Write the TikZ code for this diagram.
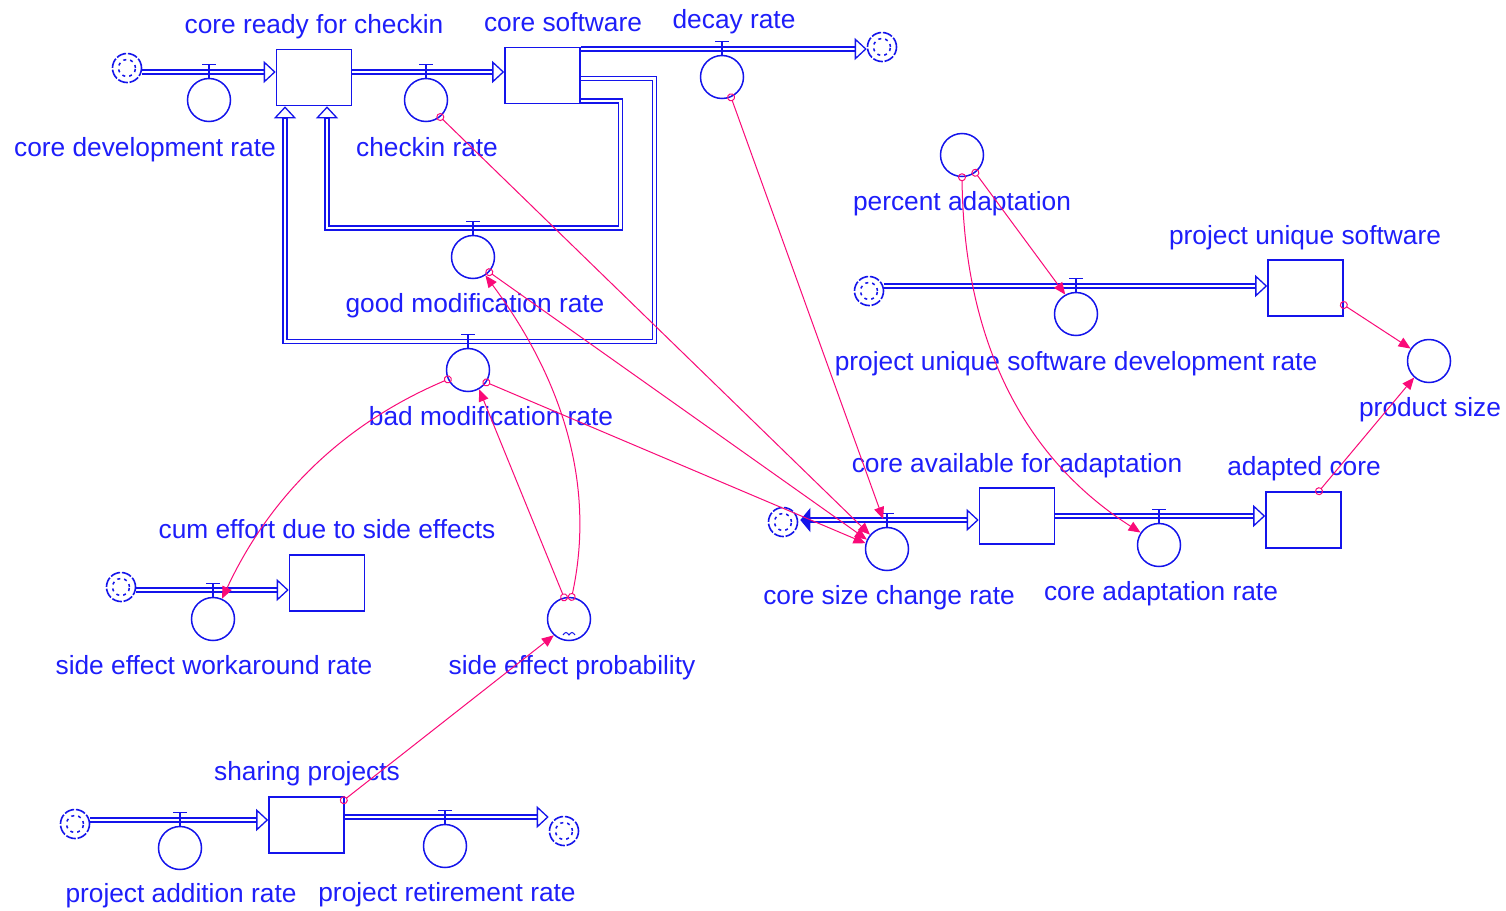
\documentclass[tikz,border=0pt]{standalone}
\usepackage{fontspec}
\setmainfont{Liberation Sans}
\usetikzlibrary{arrows.meta,backgrounds}
\definecolor{fb}{RGB}{20,20,235}
\definecolor{tb}{RGB}{30,30,250}
\definecolor{lk}{RGB}{250,10,120}
\tikzset{
  stock/.style={draw=fb, line width=1.6pt, fill=white, minimum width=75pt, minimum height=56pt, inner sep=0pt},
  rate/.style={circle, draw=fb, line width=1.5pt, minimum size=43pt, inner sep=0pt},
  cloudsym/.style={circle, draw=fb, line width=1.6pt, fill=white, minimum size=29pt, inner sep=0pt,
    dash pattern=on 10pt off 1.8pt,
    path picture={\draw[fb, line width=1.5pt, dash pattern=on 3pt off 4pt]
      (path picture bounding box.center) circle[radius=8.5pt];}},
  pipe/.style={draw=fb, line width=1.5pt, double=white, double distance=2.4pt},
  inhead/.style={draw=fb, line width=1.3pt, -{Triangle[open, length=12pt, width=22pt, fill=white]}},
  outhead/.style={draw=fb, line width=1pt, -{Triangle[length=10pt, width=24pt]}},
  valvebar/.style={draw=fb, line width=1.4pt},
  link/.style={draw=lk, line width=1pt, shorten <=-4pt,
    {Circle[open, length=8pt, width=8pt]}-{Triangle[length=12pt, width=10pt]}},
  lbl/.style={text=tb, inner sep=0pt, anchor=base, font=\fontsize{26.3pt}{30pt}\selectfont},
}
\newcommand{\valve}[1]{\draw[valvebar] (#1.north) -- ++(0,-13) ++(-7,0) -- ++(14,0);}
\begin{document}
\begin{tikzpicture}[x=1pt, y=-1pt]
\useasboundingbox (0,0) rectangle (1506,910);

% stocks
\node[stock] (crc) at (314,77.5) {};
\node[stock] (cs) at (542.5,75.5) {};
\node[stock] (pus) at (1305.5,288) {};
\node[stock] (caa) at (1017,516) {};
\node[stock] (ac) at (1303.5,520) {};
\node[stock] (ce) at (327,583) {};
\node[stock] (sp) at (306.5,825) {};

% sources and sinks
\node[cloudsym] (cl1) at (127,68) {};
\node[cloudsym] (cl2) at (882,47) {};
\node[cloudsym] (cl3) at (869,291) {};
\node[cloudsym] (cl4) at (783,522) {};
\node[cloudsym] (cl5) at (121,587) {};
\node[cloudsym] (cl6) at (75,824) {};
\node[cloudsym] (cl7) at (564,831) {};

% rates and auxiliaries
\node[rate] (cdr) at (209,100) {};
\node[rate] (chk) at (426,100) {};
\node[rate] (dr) at (722,77) {};
\node[rate] (gmr) at (473,257) {};
\node[rate] (bmr) at (468,370) {};
\node[rate] (pusdr) at (1076,314) {};
\node[rate] (csc) at (887,549) {};
\node[rate] (car) at (1159,545) {};
\node[rate] (sewr) at (213,619) {};
\node[rate] (par) at (180,848) {};
\node[rate] (prr) at (445,846) {};
\node[rate] (pa) at (962,155) {};
\node[rate] (ps) at (1429,361) {};
\node[rate] (sep) at (569,619) {};

% pipe lines of the flows
\coordinate (p1) at (209,72);
\coordinate (p2) at (426,72);
\coordinate (p3) at (722,49);
\coordinate (p4) at (1076,286);
\coordinate (p5) at (887,520);
\coordinate (p6) at (1159,516);
\coordinate (p7) at (213,590);
\coordinate (p8) at (180,820);
\coordinate (p9) at (445,817);
\coordinate (gA) at (620.5,101);
\coordinate (gB) at (620.5,228);
\coordinate (gC) at (327,228);
\coordinate (bA) at (654.5,78.5);
\coordinate (bB) at (654.5,341.5);
\coordinate (bC) at (285,341.5);

\coordinate (e1) at (crc.west |- p1);
\coordinate (e2) at (cs.west |- p2);
\coordinate (e3) at (cl2.west |- p3);
\coordinate (e4) at (pus.west |- p4);
\coordinate (s5) at (cl4.east |- p5);
\coordinate (e5) at (caa.west |- p5);
\coordinate (e6) at (ac.west |- p6);
\coordinate (e7) at (ce.west |- p7);
\coordinate (e8) at (sp.west |- p8);
\coordinate (e9) at (cl7.west |- p9);
\coordinate (eg) at (crc.south -| gC);
\coordinate (eb) at (crc.south -| bC);

\begin{scope}[on background layer]
\fill[white] (0,0) rectangle (1506,910);
\draw[pipe] (cl1.east |- p1) -- ([xshift=-11pt]e1);
\draw[pipe] (crc.east |- p2) -- ([xshift=-11pt]e2);
\draw[pipe] (cs.east |- p3) -- ([xshift=-11pt]e3);
\draw[pipe] (cl3.east |- p4) -- ([xshift=-11pt]e4);
\draw[pipe] ([xshift=11pt]s5) -- ([xshift=-11pt]e5);
\draw[pipe] (caa.east |- p6) -- ([xshift=-11pt]e6);
\draw[pipe] (cl5.east |- p7) -- ([xshift=-11pt]e7);
\draw[pipe] (cl6.east |- p8) -- ([xshift=-11pt]e8);
\draw[pipe] (sp.east |- p9) -- ([xshift=-11pt]e9);
\draw[pipe] (cs.east |- gA) -- (gA) -- (gB) -- (gC) -- ([yshift=-11pt]eg);
\draw[pipe] (cs.east |- bA) -- (bA) -- (bB) -- (bC) -- ([yshift=-11pt]eb);
\end{scope}

% flow arrowheads
\draw[inhead] ([xshift=-12pt]e1) -- (e1);
\draw[inhead] ([xshift=-12pt]e2) -- (e2);
\draw[inhead] ([xshift=-12pt]e3) -- (e3);
\draw[inhead] ([xshift=-12pt]e4) -- (e4);
\draw[inhead] ([xshift=-12pt]e5) -- (e5);
\draw[outhead] ([xshift=12pt]s5) -- ([xshift=2pt]s5);
\draw[inhead] ([xshift=-12pt]e6) -- (e6);
\draw[inhead] ([xshift=-12pt]e7) -- (e7);
\draw[inhead] ([xshift=-12pt]e8) -- (e8);
\draw[inhead] ([xshift=-12pt]e9) -- (e9);
\draw[inhead] ([yshift=-12pt]eg) -- (eg);
\draw[inhead] ([yshift=-12pt]eb) -- (eb);

% valves
\foreach \v in {cdr,chk,dr,gmr,bmr,pusdr,csc,car,sewr,par,prr} {\valve{\v}}

% lookup mark
\draw[fb, line width=1pt] ([shift={(-6pt,-16pt)}]sep.center) sin ([shift={(-3pt,-13.5pt)}]sep.center)
  cos ([shift={(0pt,-16pt)}]sep.center) sin ([shift={(3pt,-13.5pt)}]sep.center) cos ([shift={(6pt,-16pt)}]sep.center);

% labels
\node[lbl] (tcrc) at (314,33) {core ready for checkin};
\node[lbl] (tcs) at (563,31) {core software};
\node[lbl] (tdr) at (734,28) {decay rate};
\node[lbl] (tcdr) at (145,156) {core development rate};
\node[lbl] (tchk) at (427,156) {checkin rate};
\node[lbl] (tpa) at (962,210) {percent adaptation};
\node[lbl] (tpus) at (1305,244) {project unique software};
\node[lbl] (tgmr) at (475,312) {good modification rate};
\node[lbl] (tpusdr) at (1076,370) {project unique software development rate};
\node[lbl] (tps) at (1430,416) {product size};
\node[lbl] (tbmr) at (491,425) {bad modification rate};
\node[lbl] (tcaa) at (1017,472) {core available for adaptation};
\node[lbl] (tac) at (1304,475) {adapted core};
\node[lbl] (tce) at (327,538) {cum effort due to side effects};
\node[lbl] (tcsc) at (889,604) {core size change rate};
\node[lbl] (tcar) at (1161,600) {core adaptation rate};
\node[lbl] (tsewr) at (214,674) {side effect workaround rate};
\node[lbl] (tsep) at (572,674) {side effect probability};
\node[lbl] (tsp) at (307,780) {sharing projects};
\node[lbl] (tpar) at (181,902) {project addition rate};
\node[lbl] (tprr) at (447,901) {project retirement rate};

% information links
\draw[link] (chk.310) -- (csc.140);
\draw[link] (dr.294) -- ([yshift=8pt]csc.100);
\draw[link] (gmr.317) -- (csc.155);
\draw[link] (bmr.326) -- (csc.165);
\draw[link] (bmr.205) .. controls (345,423) and (271,494) .. (sewr.66);
\draw[link] (sep.103) -- (bmr.300);
\draw[link] (sep.83) .. controls (594.7,490.3) and (566.7,384.7) .. (gmr.304);
\draw[link] ([shift={(-1pt,-4pt)}]sp.north east) -- (sep.227);
\draw[link] (pa.307) -- (pusdr.119);
\draw[link] (pa.270) .. controls (964,339) and (1022,457) .. (car.146);
\draw[link] ([yshift=-17pt]pus.east) -- (ps.146);
\draw[link] ([xshift=15.5pt]ac.north) -- (ps.228);
\end{tikzpicture}
\end{document}
